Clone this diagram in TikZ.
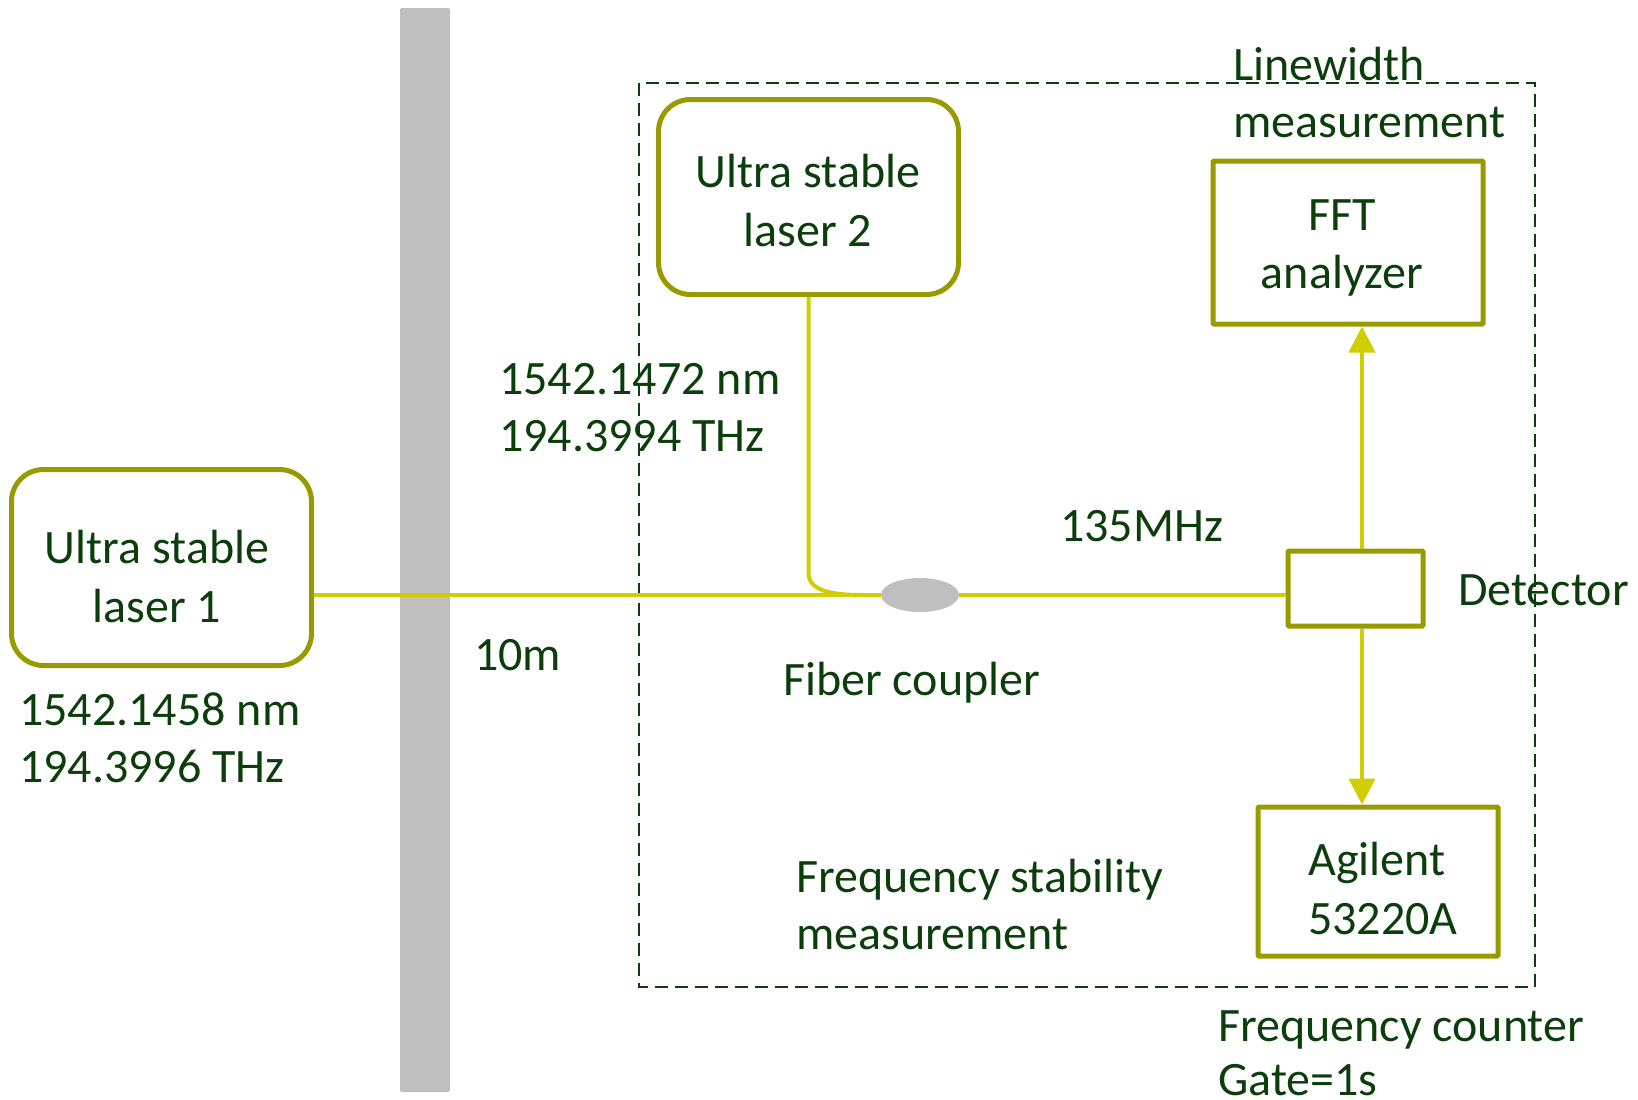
\documentclass[tikz,border=0pt]{standalone}
\usepackage{fontspec}
\setmainfont{Carlito}
\usetikzlibrary{arrows.meta,shapes.geometric}
\definecolor{txtgreen}{RGB}{12,62,12}
\definecolor{olivebox}{RGB}{153,153,0}
\definecolor{fibercol}{RGB}{208,206,0}
\definecolor{bargray}{RGB}{191,191,191}
\tikzset{
  txt/.style={text=txtgreen, inner sep=0pt, font=\fontsize{48}{58}\selectfont},
  lbl/.style={txt, anchor=base west},
  clbl/.style={txt, anchor=base},
  laserbox/.style={draw=olivebox, line width=5pt, rounded corners=32pt, rectangle, inner sep=0pt},
  devbox/.style={draw=olivebox, line width=5pt, rectangle, rounded corners=1pt, inner sep=0pt},
  fiber/.style={draw=fibercol, line width=4pt},
  sigarrow/.style={draw=fibercol, line width=4.5pt, -{Triangle[length=26pt,width=26pt]}},
  dashbox/.style={draw=txtgreen, line width=2pt, dash pattern=on 13pt off 7pt},
}
\begin{document}
\begin{tikzpicture}[x=1pt,y=-1pt]
\useasboundingbox (0,0) rectangle (1638,1100);
% wall
\fill[bargray, rounded corners=2pt] (400,8) rectangle (450,1092);
% dashed measurement region
\draw[dashbox] (639,83) rectangle (1535,987);

% boxes
\node[laserbox, minimum width=300pt, minimum height=196pt] (laser1) at (161.5,567.5) {};
\node[laserbox, minimum width=300pt, minimum height=195pt] (laser2) at (808.5,197) {};
\node[devbox, minimum width=270pt, minimum height=163pt] (fft) at (1348,242.5) {};
\node[devbox, minimum width=135pt, minimum height=75pt] (detector) at (1355.5,588.5) {};
\node[devbox, minimum width=240pt, minimum height=149pt] (agilent) at (1378,881.5) {};
\node[ellipse, fill=bargray, minimum width=78pt, minimum height=34pt, inner sep=0pt] (coupler) at (920,595) {};

% fibers
\coordinate (bend) at (808.5,573);
\coordinate (join) at (861,595);
\draw[fiber] (laser1.east |- coupler.west) -- (coupler.west);
\draw[fiber] (laser2.south) -- (bend) .. controls (808.5,590) and (830,595) .. (join) -- (coupler.west);
\draw[fiber] (coupler.east) -- (detector.west |- coupler.east);

% signal arrows
\coordinate (axis) at (1362,0);
\draw[sigarrow] (detector.north -| axis) -- (fft.south -| axis);
\draw[sigarrow] (detector.south -| axis) -- (agilent.north -| axis);

% texts in boxes
\node[clbl] (l1a) at (157,563) {Ultra stable};
\node[clbl] (l1b) at (157,622) {laser 1};
\node[clbl] (l2a) at (808,187) {Ultra stable};
\node[clbl] (l2b) at (808,246) {laser 2};
\node[clbl] (ffta) at (1342,230) {FFT};
\node[clbl] (fftb) at (1342,288) {analyzer};
\node[lbl] (aga) at (1308,875) {Agilent};
\node[lbl] (agb) at (1308,934) {53220A};

% free labels
\node[lbl] (w1a) at (19,725) {1542.1458 nm};
\node[lbl] (w1b) at (19,782) {194.3996 THz};
\node[lbl] (w2a) at (499,394) {1542.1472 nm};
\node[lbl] (w2b) at (499,451) {194.3994 THz};
\node[lbl] (len) at (474,670) {10m};
\node[lbl] (fc) at (783,695) {Fiber coupler};
\node[lbl] (beat) at (1060,541) {135MHz};
\node[lbl] (det) at (1458,605) {Detector};
\node[lbl] (lwa) at (1233,80) {Linewidth};
\node[lbl] (lwb) at (1233,137) {measurement};
\node[lbl] (fsa) at (796,892) {Frequency stability};
\node[lbl] (fsb) at (796,949) {measurement};
\node[lbl] (fca) at (1218,1041) {Frequency counter};
\node[lbl] (fcb) at (1218,1095) {Gate=1s};
\end{tikzpicture}
\end{document}
